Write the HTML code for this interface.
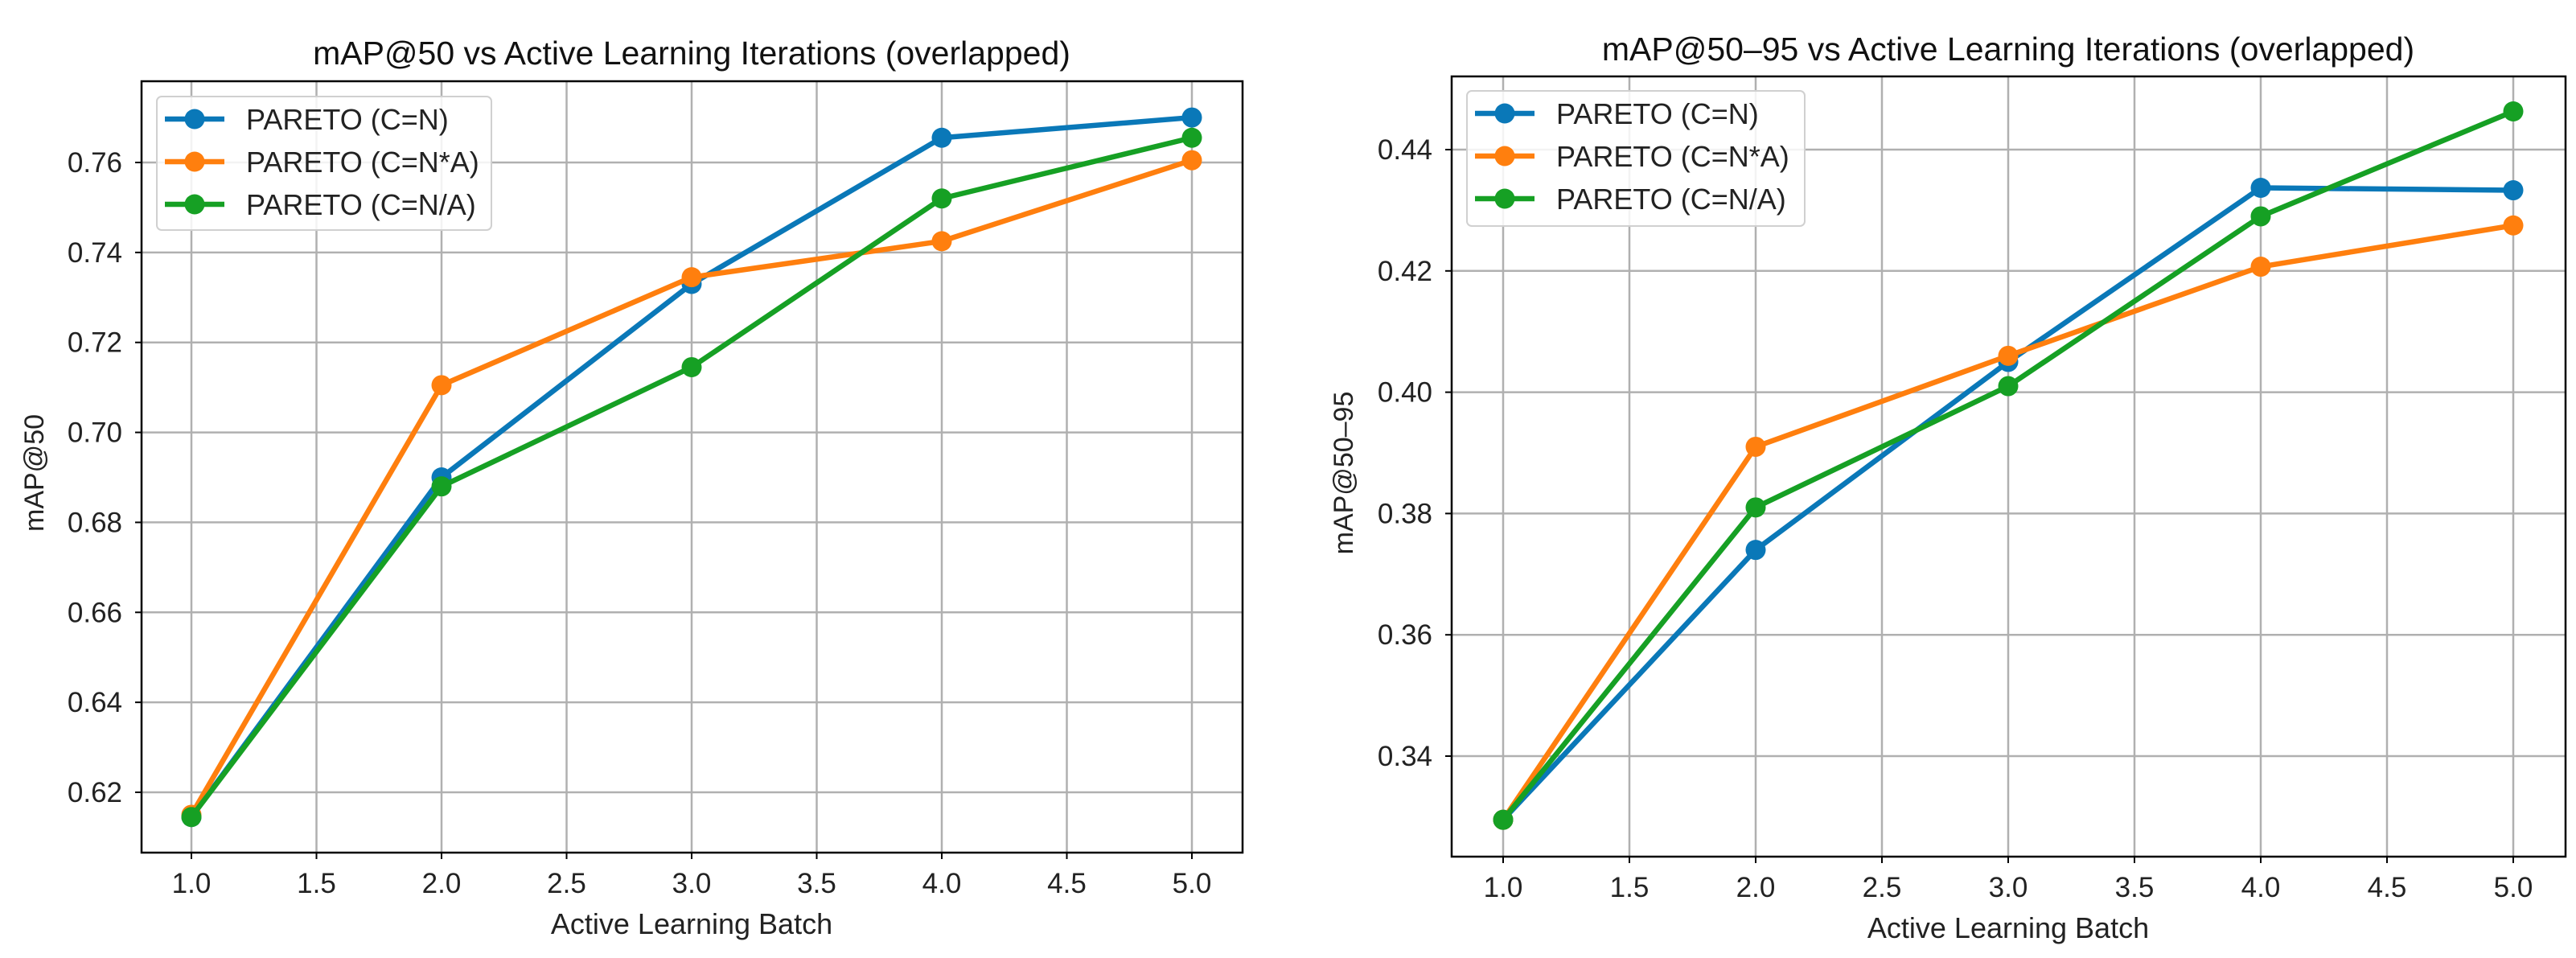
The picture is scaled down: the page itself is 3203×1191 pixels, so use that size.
<!DOCTYPE html>
<html><head><meta charset="utf-8"><style>
html,body{margin:0;padding:0;background:#fff;overflow:hidden;}
svg{display:block;font-family:"Liberation Sans",sans-serif;}
</style></head><body>
<svg id="chart" width="3203" height="1191" viewBox="0 0 3203 1191" xmlns="http://www.w3.org/2000/svg"></svg>
<script>
const seriesNames = ["PARETO (C=N)", "PARETO (C=N*A)", "PARETO (C=N/A)"];
const batches = [1, 2, 3, 4, 5];
const xTicks = [1.0, 1.5, 2.0, 2.5, 3.0, 3.5, 4.0, 4.5, 5.0];
const leftN = [0.6145, 0.690, 0.733, 0.7655, 0.770];
const leftNA = [0.615, 0.7105, 0.7345, 0.7425, 0.7605];
const leftNdA = [0.6145, 0.688, 0.7145, 0.752, 0.7655];
const leftYTicks = [0.62, 0.64, 0.66, 0.68, 0.70, 0.72, 0.74, 0.76];
const rightN = [0.3295, 0.374, 0.405, 0.4337, 0.4333];
const rightNA = [0.3295, 0.391, 0.406, 0.4207, 0.4275];
const rightNdA = [0.3295, 0.381, 0.401, 0.429, 0.4463];
const rightYTicks = [0.34, 0.36, 0.38, 0.40, 0.42, 0.44];

const colors = ["#0a78b8", "#ff7f0e", "#16a024"];
const svg = document.getElementById('chart');
const NS = "http://www.w3.org/2000/svg";
function mk(tag, attrs, parent) {
  const e = document.createElementNS(NS, tag);
  for (const k in attrs) e.setAttribute(k, attrs[k]);
  (parent || svg).appendChild(e);
  return e;
}
function panel(cfg, prefix) {
  const g = mk('g', {});
  
  
  const xs = v => cfg.x1px + (v - 1) * (cfg.x5px - cfg.x1px) / 4;
  const ys = v => cfg.yApx + (v - cfg.yA) * (cfg.yBpx - cfg.yApx) / (cfg.yB - cfg.yA);
  xTicks.forEach(t => {
    const l = mk('line', {x1: xs(t), x2: xs(t), y1: cfg.top, y2: cfg.bottom, stroke: '#b0b0b0', 'stroke-width': 2.5}, g);
    
    
    const tx = mk('text', {x: xs(t), y: cfg.bottom + 50, 'font-size': 35, 'text-anchor': 'middle', fill: '#222'}, g);
    tx.textContent = t.toFixed(1);
    
    
    mk('line', {x1: xs(t), x2: xs(t), y1: cfg.bottom, y2: cfg.bottom + 8, stroke: '#000', 'stroke-width': 2}, g);
  });
  cfg.yTicks.forEach(t => {
    const l = mk('line', {x1: cfg.left, x2: cfg.right, y1: ys(t), y2: ys(t), stroke: '#b0b0b0', 'stroke-width': 2.5}, g);
    
    
    const tx = mk('text', {x: cfg.left - 24, y: ys(t) + 12, 'font-size': 35, 'text-anchor': 'end', fill: '#222'}, g);
    tx.textContent = t.toFixed(2);
    
    
    mk('line', {x1: cfg.left - 8, x2: cfg.left, y1: ys(t), y2: ys(t), stroke: '#000', 'stroke-width': 2}, g);
  });
  cfg.series.forEach((vals, i) => {
    const pts = vals.map((v, j) => xs(batches[j]) + ',' + ys(v)).join(' ');
    const pl = mk('polyline', {points: pts, fill: 'none', stroke: colors[i], 'stroke-width': 6.5, 'stroke-linejoin': 'round'}, g);
    
    
    vals.forEach((v, j) => {
      const c = mk('circle', {cx: xs(batches[j]), cy: ys(v), r: 12.5, fill: colors[i]}, g);
      
      
    });
  });
  const fr = mk('rect', {x: cfg.left, y: cfg.top, width: cfg.right - cfg.left, height: cfg.bottom - cfg.top, fill: 'none', stroke: '#000', 'stroke-width': 2.5}, g);
  
  
  const ti = mk('text', {x: cfg.titleX, y: cfg.titleY, 'font-size': 41, 'text-anchor': 'middle', fill: '#111'}, g);
  ti.textContent = cfg.title;
  
  
  const xl = mk('text', {x: (cfg.x1px + cfg.x5px) / 2, y: cfg.bottom + 101, 'font-size': 36, 'text-anchor': 'middle', fill: '#222'}, g);
  xl.textContent = 'Active Learning Batch';
  
  
  const yl = mk('text', {x: 0, y: 0, 'font-size': 34, 'text-anchor': 'middle', fill: '#222', transform: 'translate(' + cfg.ylabelX + ',' + cfg.ylabelY + ') rotate(-90)'}, g);
  yl.textContent = cfg.ylabel;
  
  
  const L = cfg.legend;
  const lg = mk('g', {}, g);
  
  
  mk('rect', {x: L.x, y: L.y, width: L.w, height: L.h, rx: 6, fill: 'rgba(255,255,255,0.85)', stroke: '#d0d0d0', 'stroke-width': 2}, lg);
  seriesNames.forEach((n, i) => {
    const yy = L.y + 28 + i * 53;
    mk('line', {x1: L.x + 10, x2: L.x + 84, y1: yy, y2: yy, stroke: colors[i], 'stroke-width': 6.5}, lg);
    mk('circle', {cx: L.x + 47, cy: yy, r: 12.5, fill: colors[i]}, lg);
    const t = mk('text', {x: L.x + 111, y: yy + 13, 'font-size': 36, fill: '#222'}, lg);
    t.textContent = n;
    
    
  });
}
panel({left: 176, right: 1545, top: 101, bottom: 1060, x1px: 238, x5px: 1482,
  yA: 0.76, yApx: 202, yB: 0.62, yBpx: 985, yTicks: leftYTicks,
  series: [leftN, leftNA, leftNdA], title: 'mAP@50 vs Active Learning Iterations (overlapped)',
  titleX: 860, titleY: 80, ylabel: 'mAP@50', ylabelX: 54, ylabelY: 588,
  legend: {x: 195, y: 120, w: 416, h: 166}}, 'left');
panel({left: 1805, right: 3190, top: 95, bottom: 1065, x1px: 1869, x5px: 3125,
  yA: 0.44, yApx: 186, yB: 0.34, yBpx: 940, yTicks: rightYTicks,
  series: [rightN, rightNA, rightNdA], title: 'mAP@50\u201395 vs Active Learning Iterations (overlapped)',
  titleX: 2497, titleY: 75, ylabel: 'mAP@50\u201395', ylabelX: 1682, ylabelY: 588,
  legend: {x: 1824, y: 113, w: 420, h: 168}}, 'right');
</script>
</body></html>
